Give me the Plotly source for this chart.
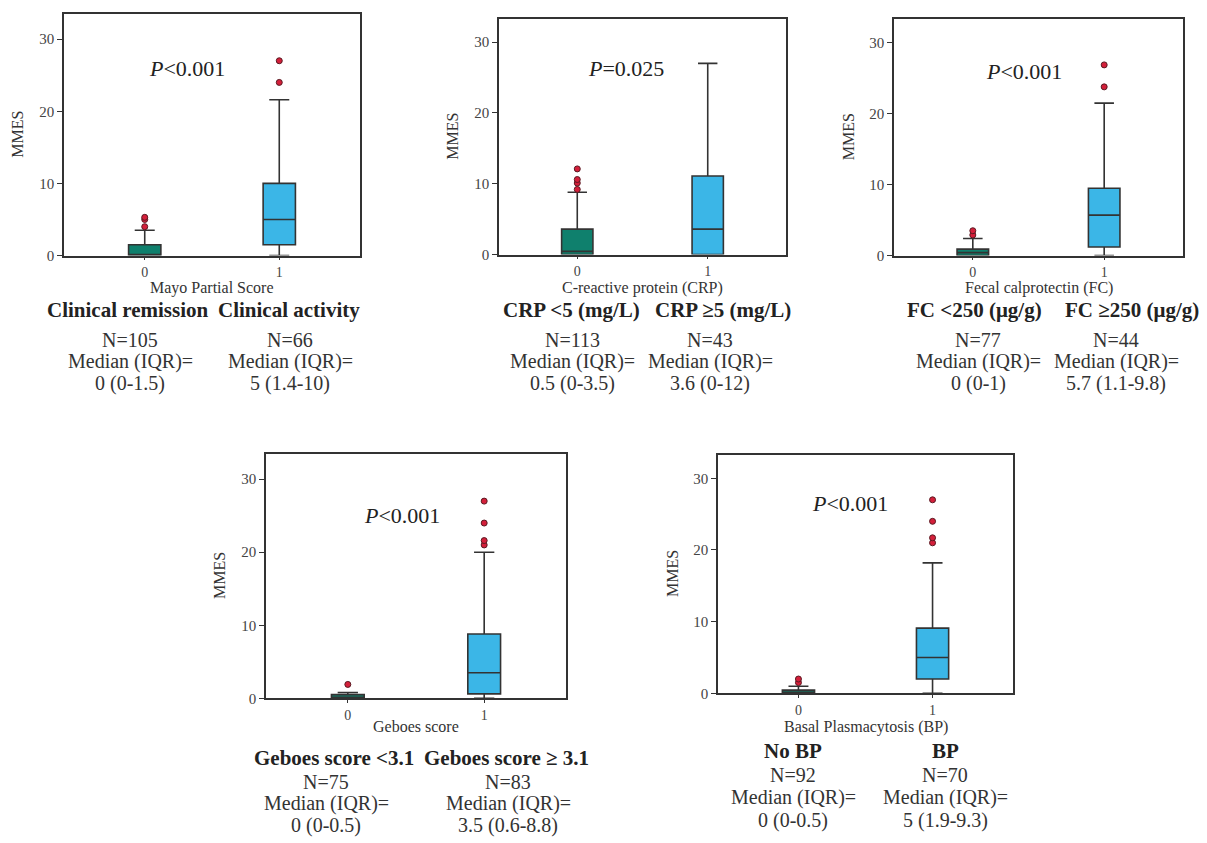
import plotly.graph_objects as go

W, H = 1207, 843

# ---------------- data ----------------
panel_titles = ["Mayo Partial Score", "C-reactive protein (CRP)", "Fecal calprotectin (FC)",
                "Geboes score", "Basal Plasmacytosis (BP)"]
p_values = ["<i>P</i>&lt;0.001", "<i>P</i>=0.025", "<i>P</i>&lt;0.001", "<i>P</i>&lt;0.001", "<i>P</i>&lt;0.001"]
x_tick_labels = ["0", "1"]
y_tick_vals = [0, 10, 20, 30]

# box statistics per panel: [group0, group1]
lower_fence = [[0, 0], [0, 0], [0, 0], [0, 0], [0, 0]]
q1_vals = [[0, 1.5], [0, 0], [0, 1.2], [0, 0.6], [0, 2.0]]
median_vals = [[0.05, 5.0], [0.45, 3.6], [0.42, 5.7], [0.1, 3.5], [0.1, 5.0]]
q3_vals = [[1.5, 10.0], [3.6, 11.1], [0.9, 9.5], [0.5, 8.8], [0.45, 9.1]]
upper_fence = [[3.5, 21.6], [8.8, 27.0], [2.4, 21.5], [0.8, 20.0], [1.0, 18.2]]

outliers_g0 = [[4.0, 5.0, 5.3], [9.2, 10.1, 10.6, 12.1], [2.9, 3.5], [1.9], [1.5, 2.0]]
outliers_g1 = [[24.0, 27.0], [], [23.8, 26.9], [21.0, 21.6, 24.0, 27.0], [21.0, 21.7, 24.0, 27.0]]

group_titles = [["Clinical remission", "Clinical activity"],
                ["CRP <5 (mg/L)", "CRP ≥5 (mg/L)"],
                ["FC <250 (μg/g)", "FC ≥250 (μg/g)"],
                ["Geboes score <3.1", "Geboes score ≥ 3.1"],
                ["No BP", "BP"]]
group_n = [["N=105", "N=66"], ["N=113", "N=43"], ["N=77", "N=44"], ["N=75", "N=83"], ["N=92", "N=70"]]
group_median_iqr = [["0 (0-1.5)", "5 (1.4-10)"], ["0.5 (0-3.5)", "3.6 (0-12)"],
                    ["0 (0-1)", "5.7 (1.1-9.8)"], ["0 (0-0.5)", "3.5 (0.6-8.8)"],
                    ["0 (0-0.5)", "5 (1.9-9.3)"]]

# ---------------- layout (pixels) ----------------
frames = [(64, 360, 14, 258), (499, 786, 19, 257), (894, 1183, 19, 258),
          (266, 566, 458, 705), (718, 1013, 459, 700)]
y_tops = [33.5, 33.3, 33.4, 33.5, 33.3]
xtitle_off = [33, 34, 33, 28, 34]
p_pos = [(187, 69), (626, 69), (1024, 72), (402, 520), (850, 508)]
title_cols = [(128, 289), (571, 723), (974, 1132), (334, 506), (793, 945)]
text_cols = [(130, 290), (572, 710), (978, 1116), (326, 508), (793, 945)]
text_rows = [(313, 343, 365, 387), (313, 343, 365, 387), (313, 343, 365, 387),
             (765, 789, 811, 833), (758, 782, 805, 828)]

COL0 = "#0f806d"
COL1 = "#3bb6e7"
EDGE = "#333333"
OUT = "#d41f3a"
FONT = "Liberation Serif"

def px(x):
    return x / W

def py(y):
    return 1 - y / H

fig = go.Figure()
annotations = []
layout = dict(width=W, height=H, margin=dict(l=0, r=0, t=0, b=0),
              paper_bgcolor="white", plot_bgcolor="white", showlegend=False,
              font=dict(family=FONT, color="#333"))

for i in range(5):
    xa = "x" if i == 0 else f"x{i+1}"
    ya = "y" if i == 0 else f"y{i+1}"
    xl, xr, yt, yb = frames[i]
    for g, col in enumerate([COL0, COL1]):
        fig.add_trace(go.Box(
            x=[g], q1=[q1_vals[i][g]], median=[median_vals[i][g]], q3=[q3_vals[i][g]],
            lowerfence=[lower_fence[i][g]], upperfence=[upper_fence[i][g]],
            width=0.24, whiskerwidth=0.62, fillcolor=col,
            line=dict(color=EDGE, width=1.6), boxpoints=False,
            xaxis=xa, yaxis=ya, hoverinfo="skip"))
    for g, outs in enumerate([outliers_g0[i], outliers_g1[i]]):
        if outs:
            fig.add_trace(go.Scatter(
                x=[g] * len(outs), y=outs, mode="markers",
                marker=dict(color=OUT, size=6, line=dict(color="#5a1a22", width=1)),
                xaxis=xa, yaxis=ya, hoverinfo="skip", cliponaxis=False))
    xkey = "xaxis" if i == 0 else f"xaxis{i+1}"
    ykey = "yaxis" if i == 0 else f"yaxis{i+1}"
    layout[xkey] = dict(domain=[px(xl), px(xr)], anchor=ya, range=[-0.6, 1.6],
                        tickmode="array", tickvals=[0, 1], ticktext=x_tick_labels,
                        ticks="outside", ticklen=3, tickcolor=EDGE, tickwidth=1.2,
                        showline=True, linecolor=EDGE, linewidth=1.6, mirror=True,
                        showgrid=False, zeroline=False,
                        tickfont=dict(family=FONT, size=14, color="#444"))
    layout[ykey] = dict(domain=[py(yb), py(yt)], anchor=xa, range=[0, y_tops[i]],
                        tickmode="array", tickvals=y_tick_vals,
                        ticks="outside", ticklen=5, tickcolor=EDGE, tickwidth=1.2,
                        showline=True, linecolor=EDGE, linewidth=1.6, mirror=True,
                        showgrid=False, zeroline=False,
                        tickfont=dict(family=FONT, size=15, color="#444"))
    # x-axis title
    annotations.append(dict(text=panel_titles[i], x=px((xl + xr) / 2), y=py(yb + xtitle_off[i]),
                            xref="paper", yref="paper", showarrow=False,
                            xanchor="center", yanchor="middle",
                            font=dict(family=FONT, size=16, color="#333")))
    # y-axis title
    annotations.append(dict(text="MMES", x=px(xl - 46), y=py((yt + yb) / 2),
                            xref="paper", yref="paper", showarrow=False, textangle=-90,
                            xanchor="center", yanchor="middle",
                            font=dict(family=FONT, size=16, color="#333")))
    # p-value
    annotations.append(dict(text=p_values[i], x=px(p_pos[i][0]), y=py(p_pos[i][1]),
                            xref="paper", yref="paper", showarrow=False,
                            xanchor="center", yanchor="middle",
                            font=dict(family=FONT, size=22, color="#222")))
    # group texts
    rows = text_rows[i]
    for g in range(2):
        annotations.append(dict(text="<b>" + group_titles[i][g] + "</b>",
                                x=px(title_cols[i][g]), y=py(rows[0]),
                                xref="paper", yref="paper", showarrow=False,
                                xanchor="center", yanchor="middle",
                                font=dict(family=FONT, size=21, color="#222")))
        for txt, r in zip([group_n[i][g], "Median (IQR)=", group_median_iqr[i][g]], rows[1:]):
            annotations.append(dict(text=txt, x=px(text_cols[i][g]), y=py(r),
                                    xref="paper", yref="paper", showarrow=False,
                                    xanchor="center", yanchor="middle",
                                    font=dict(family=FONT, size=20, color="#333")))

layout["annotations"] = annotations
fig.update_layout(**layout)
fig.write_html("out.html")
